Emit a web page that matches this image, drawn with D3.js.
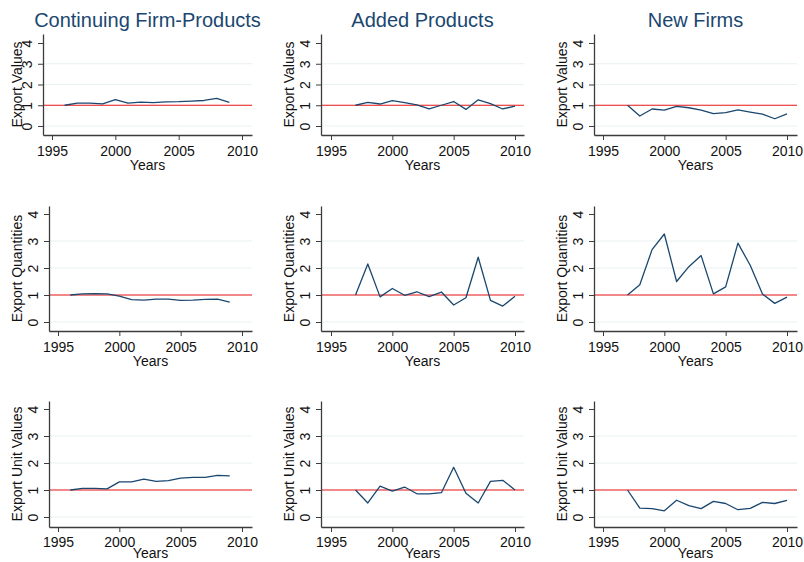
<!DOCTYPE html>
<html>
<head>
<meta charset="utf-8">
<script src="https://cdn.jsdelivr.net/npm/d3@7"></script>
<style>
  body { margin: 0; background: #fff; }
  svg { display: block; }
  text { font-family: "Liberation Sans", Arial, Helvetica, sans-serif; }
</style>
</head>
<body>
<svg id="chart" width="804" height="562"></svg>
<script>
// ---- Data: export indices relative to the first year (first year = 1) ----
const columnTitles = ["Continuing Firm-Products", "Added Products", "New Firms"];
const rowTitles = ["Export Values", "Export Quantities", "Export Unit Values"];

const yearsContinuing = [1996, 1997, 1998, 1999, 2000, 2001, 2002, 2003, 2004, 2005, 2006, 2007, 2008, 2009];
const yearsEntry      = [1997, 1998, 1999, 2000, 2001, 2002, 2003, 2004, 2005, 2006, 2007, 2008, 2009, 2010];

const continuingValues     = [1.00, 1.10, 1.10, 1.07, 1.27, 1.10, 1.15, 1.13, 1.16, 1.17, 1.20, 1.23, 1.33, 1.14];
const continuingQuantities = [1.00, 1.04, 1.05, 1.04, 0.96, 0.83, 0.81, 0.85, 0.85, 0.80, 0.81, 0.84, 0.85, 0.74];
const continuingUnitValues = [1.00, 1.06, 1.06, 1.04, 1.30, 1.30, 1.40, 1.32, 1.35, 1.44, 1.47, 1.47, 1.54, 1.52];

const addedValues     = [1.00, 1.14, 1.06, 1.22, 1.13, 1.02, 0.82, 1.00, 1.18, 0.80, 1.26, 1.08, 0.82, 0.96];
const addedQuantities = [1.00, 2.15, 0.93, 1.24, 0.99, 1.12, 0.94, 1.11, 0.63, 0.90, 2.40, 0.80, 0.59, 0.95];
const addedUnitValues = [1.00, 0.52, 1.14, 0.96, 1.11, 0.86, 0.86, 0.90, 1.84, 0.88, 0.52, 1.32, 1.36, 1.00];

const newFirmValues     = [1.00, 0.48, 0.82, 0.77, 0.95, 0.88, 0.77, 0.60, 0.64, 0.78, 0.67, 0.57, 0.35, 0.58];
const newFirmQuantities = [1.00, 1.38, 2.68, 3.26, 1.50, 2.05, 2.46, 1.04, 1.30, 2.92, 2.10, 1.04, 0.69, 0.92];
const newFirmUnitValues = [1.00, 0.33, 0.31, 0.23, 0.62, 0.42, 0.31, 0.58, 0.50, 0.27, 0.32, 0.54, 0.50, 0.62];

const xTickValues = [1995, 2000, 2005, 2010];
const yTickValues = [0, 1, 2, 3, 4];
const gridValues = [0, 1, 2, 3];
const baseLevel = 1;

// Panel grid: rows = measure, columns = product group
const panels = [
  [ {years: yearsContinuing, values: continuingValues},     {years: yearsEntry, values: addedValues},     {years: yearsEntry, values: newFirmValues} ],
  [ {years: yearsContinuing, values: continuingQuantities}, {years: yearsEntry, values: addedQuantities}, {years: yearsEntry, values: newFirmQuantities} ],
  [ {years: yearsContinuing, values: continuingUnitValues}, {years: yearsEntry, values: addedUnitValues}, {years: yearsEntry, values: newFirmUnitValues} ]
];

// ---- Layout ----
const colGeom = [
  {axis: 49,  x0: 58,  x1: 242, right: 252},
  {axis: 321, x0: 331, x1: 515, right: 524},
  {axis: 594, x0: 603, x1: 787, right: 797}
];
const rowGeom = [
  {top: 34,  y4: 43,  y0: 126, bottom: 135, tickPad: 6, titleY: 170},
  {top: 206, y4: 214, y0: 322, bottom: 331, tickPad: 6, titleY: 366},
  {top: 401, y4: 409, y0: 517, bottom: 527, tickPad: 5, titleY: 558}
];

const NAVY = "#1a476f";
const AXIS = "#3c3c3c";
const GRID = "#e8f0f2";
const FONT = 14;

const svg = d3.select("#chart");

panels.forEach((row, r) => {
  row.forEach((panel, c) => {
    const rg = rowGeom[r];
    const cg = Object.assign({}, colGeom[c]);
    let titleOffset = 27;
    // the first panel sits slightly further left, its axis title overlapping the tick labels
    if (r === 0 && c === 0) { cg.axis = 43; cg.x0 = 52; titleOffset = 21; }

    const xBase = d3.scaleLinear().domain([1995, 2010]).range([cg.x0, cg.x1]);
    const x = d3.scaleLinear()
      .domain([xBase.invert(cg.axis), xBase.invert(cg.right)])
      .range([cg.axis, cg.right]);
    const yBase = d3.scaleLinear().domain([0, 4]).range([rg.y0, rg.y4]);
    const y = d3.scaleLinear()
      .domain([yBase.invert(rg.bottom), yBase.invert(rg.top)])
      .range([rg.bottom, rg.top]);

    const g = svg.append("g");

    // horizontal grid
    g.append("g").selectAll("line").data(gridValues).join("line")
      .attr("x1", cg.axis).attr("x2", cg.right)
      .attr("y1", d => y(d)).attr("y2", d => y(d))
      .attr("stroke", GRID).attr("stroke-width", 1);

    // reference line at 1
    g.append("line")
      .attr("x1", cg.axis).attr("x2", cg.right)
      .attr("y1", y(baseLevel)).attr("y2", y(baseLevel))
      .attr("stroke", "#f01818").attr("stroke-width", 1.2);

    // series
    const line = d3.line().x((d, i) => x(panel.years[i])).y(d => y(d));
    g.append("path")
      .attr("d", line(panel.values))
      .attr("fill", "none")
      .attr("stroke", NAVY)
      .attr("stroke-width", 1.3)
      .attr("stroke-linejoin", "round");

    // x axis
    const xAxis = g.append("g")
      .attr("transform", `translate(0,${rg.bottom})`)
      .call(d3.axisBottom(x).tickValues(xTickValues).tickFormat(d3.format("d"))
        .tickSize(5).tickSizeOuter(0).tickPadding(rg.tickPad));
    // y axis
    const yAxis = g.append("g")
      .attr("transform", `translate(${cg.axis},0)`)
      .call(d3.axisLeft(y).tickValues(yTickValues).tickFormat(d3.format("d"))
        .tickSize(5).tickSizeOuter(0));

    [xAxis, yAxis].forEach(ax => {
      ax.attr("font-size", FONT).attr("font-family", null);
      ax.select(".domain").attr("stroke", AXIS).attr("stroke-width", 1.3);
      ax.selectAll(".tick line").attr("stroke", AXIS).attr("stroke-width", 1);
      ax.selectAll(".tick text").attr("fill", "#111");
    });
    yAxis.selectAll(".tick text")
      .attr("x", null).attr("dy", null)
      .attr("text-anchor", "middle")
      .attr("transform", "translate(-11,0) rotate(-90)");

    // axis titles
    g.append("text")
      .attr("x", (cg.axis + cg.right) / 2)
      .attr("y", rg.titleY)
      .attr("text-anchor", "middle")
      .attr("font-size", FONT)
      .attr("fill", "#111")
      .text("Years");
    g.append("text")
      .attr("transform", `translate(${cg.axis - titleOffset},${(rg.top + rg.bottom) / 2}) rotate(-90)`)
      .attr("text-anchor", "middle")
      .attr("font-size", FONT)
      .attr("fill", "#111")
      .text(rowTitles[r]);

    // column titles on the top row
    if (r === 0) {
      g.append("text")
        .attr("x", (cg.axis + cg.right) / 2)
        .attr("y", 27)
        .attr("text-anchor", "middle")
        .attr("font-size", 20)
        .attr("fill", NAVY)
        .text(columnTitles[c]);
    }
  });
});
</script>
</body>
</html>
